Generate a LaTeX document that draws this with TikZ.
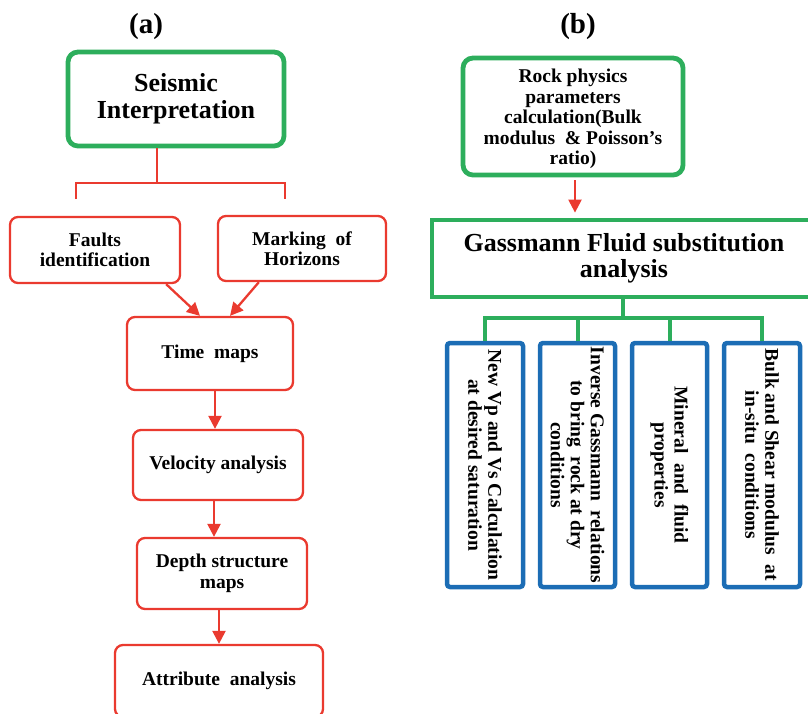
\documentclass[tikz,border=0pt]{standalone}
\usepackage{fontspec}
\setmainfont{Liberation Serif}
\usetikzlibrary{arrows.meta,calc}
\definecolor{cred}{HTML}{EA3A2F}
\definecolor{cgreen}{HTML}{2DAE5C}
\definecolor{cblue}{HTML}{1C6DB5}
\begin{document}
\begin{tikzpicture}[x=1pt,y=-1pt,
 redbox/.style={draw=cred, line width=2.3pt, rounded corners=8pt, align=center, font=\fontsize{19.5}{20.5}\selectfont\bfseries, inner sep=0pt},
 greenbox/.style={draw=cgreen, line width=4.8pt, align=center, inner sep=0pt},
 bluebox/.style={draw=cblue, line width=4.5pt, rounded corners=3pt, inner sep=0pt},
 bluetext/.style={rotate=-90, align=center, font=\fontsize{19.5}{20}\selectfont\bfseries, inner sep=0pt},
 redline/.style={draw=cred, line width=2.3pt},
 arr/.style={redline, -{Triangle[length=13pt,width=13pt]}},
 greenline/.style={draw=cgreen, line width=4pt},
 lab/.style={font=\fontsize{29}{30}\selectfont\bfseries}]
\useasboundingbox (0,0) rectangle (808,713);
\clip (0,0) rectangle (808,713);

% ---------- panel (a) ----------
\node[lab] (la) at (146,27) {(a)};
\node[greenbox, rounded corners=10pt, minimum width=216pt, minimum height=94pt,
      font=\fontsize{26}{27}\selectfont\bfseries] (seis) at (176,99) {Seismic\\Interpretation};

\node[redbox, minimum width=170pt, minimum height=66pt] (faults) at (95,250) {Faults\\identification};
\node[redbox, minimum width=168pt, minimum height=65pt] (horiz) at (302,248.5) {Marking \ of\\Horizons};
\node[redbox, minimum width=166pt, minimum height=73pt] (time) at (210,353.5) {Time \ maps};
\node[redbox, minimum width=170pt, minimum height=70pt] (vel) at (218,465) {Velocity analysis};
\node[redbox, minimum width=170pt, minimum height=71pt] (depth) at (222,573.5) {Depth structure\\maps};
\node[redbox, minimum width=208pt, minimum height=72pt] (attr) at (219,681) {Attribute \ analysis};

\coordinate (j0) at (157,183);
\coordinate (jl) at (76,183);
\coordinate (jr) at (285,183);
\coordinate (sl) at (76,199);
\coordinate (sr) at (285,199);
\draw[redline] (seis.south -| j0) -- (j0);
\draw[redline] (sl) -- (jl) -- (jr) -- (sr);

\draw[arr] ([xshift=-15pt]faults.south east) -- ([xshift=-10pt]time.north);
\draw[arr] ([xshift=42pt]horiz.south west) -- ([xshift=20pt]time.north);
\draw[arr] ([xshift=5pt]time.south) -- ([xshift=5pt]time.south |- vel.north);
\draw[arr] ([xshift=-4pt]vel.south) -- ([xshift=-4pt]vel.south |- depth.north);
\draw[arr] ([xshift=-3pt]depth.south) -- ([xshift=-3pt]depth.south |- attr.north);

% ---------- panel (b) ----------
\node[lab] (lb) at (578,27) {(b)};
\node[greenbox, rounded corners=10pt, minimum width=220pt, minimum height=117pt] (rock) at (573,116.5) {};
\node[align=center, inner sep=0pt, font=\fontsize{19.5}{20.5}\selectfont\bfseries] (rockt) at (573,119)
      {Rock physics\\parameters\\calculation(Bulk\\modulus \ \& Poisson’s\\ratio)};
\node[greenbox, minimum width=384pt, minimum height=77pt,
      font=\fontsize{26}{26}\selectfont\bfseries] (gass) at (624,258.5)
      {Gassmann Fluid substitution\\analysis};

\draw[arr, shorten <=3pt, shorten >=5pt] ([xshift=2pt]rock.south) -- ([xshift=2pt]rock.south |- gass.north);

\node[bluebox, minimum width=76pt, minimum height=244pt] (b1) at (485,465) {};
\node[bluebox, minimum width=75pt, minimum height=244pt] (b2) at (577.5,465) {};
\node[bluebox, minimum width=75pt, minimum height=244pt] (b3) at (669.5,465) {};
\node[bluebox, minimum width=76pt, minimum height=244pt] (b4) at (762,465) {};

\node[bluetext] (t1) at (b1.center) {New Vp and Vs Calculation\\at desired saturation};
\node[bluetext] (t2) at (b2.center) {Inverse Gassmann \ relations\\to bring \ rock at dry\\conditions};
\node[bluetext] (t3) at (b3.center) {Mineral \ and \ fluid\\properties};
\node[bluetext] (t4) at (b4.center) {Bulk and Shear modulus \ at\\in-situ \ conditions};

\coordinate (g0) at (623,318);
\draw[greenline] (gass.south -| g0) -- (g0);
\draw[greenline] (b1.north) -- (b1.north |- g0) -- (b4.north |- g0) -- (b4.north);
\draw[greenline] (b2.north) -- (b2.north |- g0);
\draw[greenline] (b3.north) -- (b3.north |- g0);
\end{tikzpicture}
\end{document}
